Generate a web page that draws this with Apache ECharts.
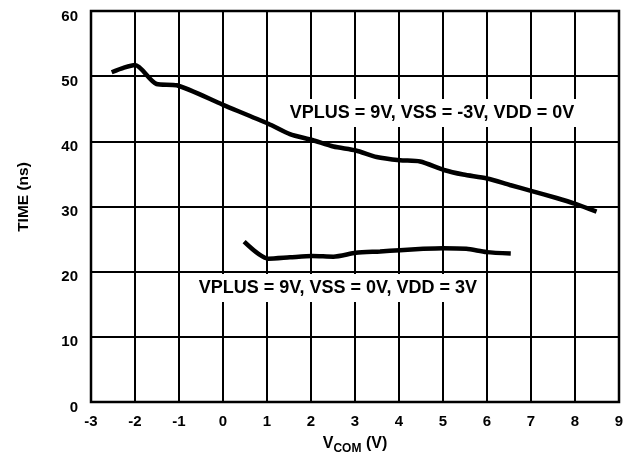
<!DOCTYPE html>
<html>
<head>
<meta charset="utf-8">
<script src="https://cdn.jsdelivr.net/npm/echarts@6/dist/echarts.min.js"></script>
<style>
html,body{margin:0;padding:0;background:#fff;}
#c{width:633px;height:459px;}
</style>
</head>
<body>
<div id="c"></div>
<script>
var xTicks = [-3, -2, -1, 0, 1, 2, 3, 4, 5, 6, 7, 8, 9];
var yTicks = [0, 10, 20, 30, 40, 50, 60];

var upperX = [-2.53, -2.25, -2.0, -1.51, -1.05, 0.0, 1.03, 1.52, 2.03, 2.51, 3.02, 3.49, 4.02, 4.48, 5.02, 5.46, 6.0, 6.52, 7.0, 7.58, 8.01, 8.49];
var upperY = [50.6, 51.3, 51.7, 48.8, 48.6, 45.6, 42.7, 41.1, 40.2, 39.2, 38.6, 37.6, 37.1, 36.9, 35.6, 34.9, 34.3, 33.3, 32.4, 31.3, 30.4, 29.2];

var lowerX = [0.48, 1.03, 1.52, 2.03, 2.51, 3.02, 3.57, 4.02, 4.55, 5.0, 5.53, 5.99, 6.54];
var lowerY = [24.6, 22.0, 22.2, 22.4, 22.3, 22.9, 23.1, 23.3, 23.5, 23.6, 23.5, 23.0, 22.8];

var upperLabel = 'VPLUS = 9V, VSS = -3V, VDD = 0V';
var lowerLabel = 'VPLUS = 9V, VSS = 0V, VDD = 3V';
var upperLabelAt = [4.75, 44.35];
var lowerLabelAt = [2.61, 17.5];

function pairs(xs, ys) { return xs.map(function (x, i) { return [x, ys[i]]; }); }

var FONT = '"Liberation Sans", Arial, sans-serif';
var chart = echarts.init(document.getElementById('c'), null, {renderer: 'canvas'});

var option = {
  animation: false,
  backgroundColor: '#fff',
  grid: {left: 91, right: 14, top: 11, bottom: 57, show: true, borderColor: '#000', borderWidth: 2.5, backgroundColor: 'transparent'},
  xAxis: {
    type: 'value', min: xTicks[0], max: xTicks[xTicks.length - 1], interval: 1,
    axisLine: {show: false}, axisTick: {show: false},
    splitLine: {show: true, lineStyle: {color: '#000', width: 2}},
    axisLabel: {color: '#000', fontWeight: 'bold', fontSize: 15, fontFamily: FONT, margin: 12,
      formatter: function (v) { return String(v); }}
  },
  yAxis: {
    type: 'value', min: yTicks[0], max: yTicks[yTicks.length - 1], interval: 10,
    axisLine: {show: false}, axisTick: {show: false},
    splitLine: {show: true, lineStyle: {color: '#000', width: 2}},
    axisLabel: {color: '#000', fontWeight: 'bold', fontSize: 15, fontFamily: FONT, margin: 13,
      verticalAlign: 'top', lineHeight: 11}
  },
  series: [
    {type: 'line', data: pairs(upperX, upperY), showSymbol: false, smooth: 0.25,
     lineStyle: {color: '#000', width: 4.5}, z: 3},
    {type: 'line', data: pairs(lowerX, lowerY), showSymbol: false, smooth: 0.25,
     lineStyle: {color: '#000', width: 4.5}, z: 3}
  ]
};
chart.setOption(option);

var p1 = chart.convertToPixel({gridIndex: 0}, upperLabelAt);
var p2 = chart.convertToPixel({gridIndex: 0}, lowerLabelAt);

chart.setOption({
  graphic: [
    {type: 'text', x: p1[0], y: p1[1], z: 10,
     style: {text: upperLabel, font: 'bold 18px ' + FONT, fill: '#000', align: 'center', verticalAlign: 'middle',
       backgroundColor: '#fff', padding: [5, 3]}},
    {type: 'text', x: p2[0], y: p2[1], z: 10,
     style: {text: lowerLabel, font: 'bold 18px ' + FONT, fill: '#000', align: 'center', verticalAlign: 'middle',
       backgroundColor: '#fff', padding: [5, 3]}},
    {type: 'text', x: 24, y: 197, rotation: Math.PI / 2, z: 10,
     style: {text: 'TIME (ns)', font: 'bold 15.5px ' + FONT, fill: '#000', align: 'center', verticalAlign: 'middle'}},
    {type: 'text', x: 355, y: 444, z: 10,
     style: {text: '{v|V}{s|COM}{v| (V)}', align: 'center', verticalAlign: 'middle',
       rich: {
         v: {font: 'bold 16px ' + FONT, fill: '#000', verticalAlign: 'bottom'},
         s: {font: 'bold 12px ' + FONT, fill: '#000', verticalAlign: 'bottom', padding: [0, 0, -3, 0]}
       }}}
  ]
});
</script>
</body>
</html>
